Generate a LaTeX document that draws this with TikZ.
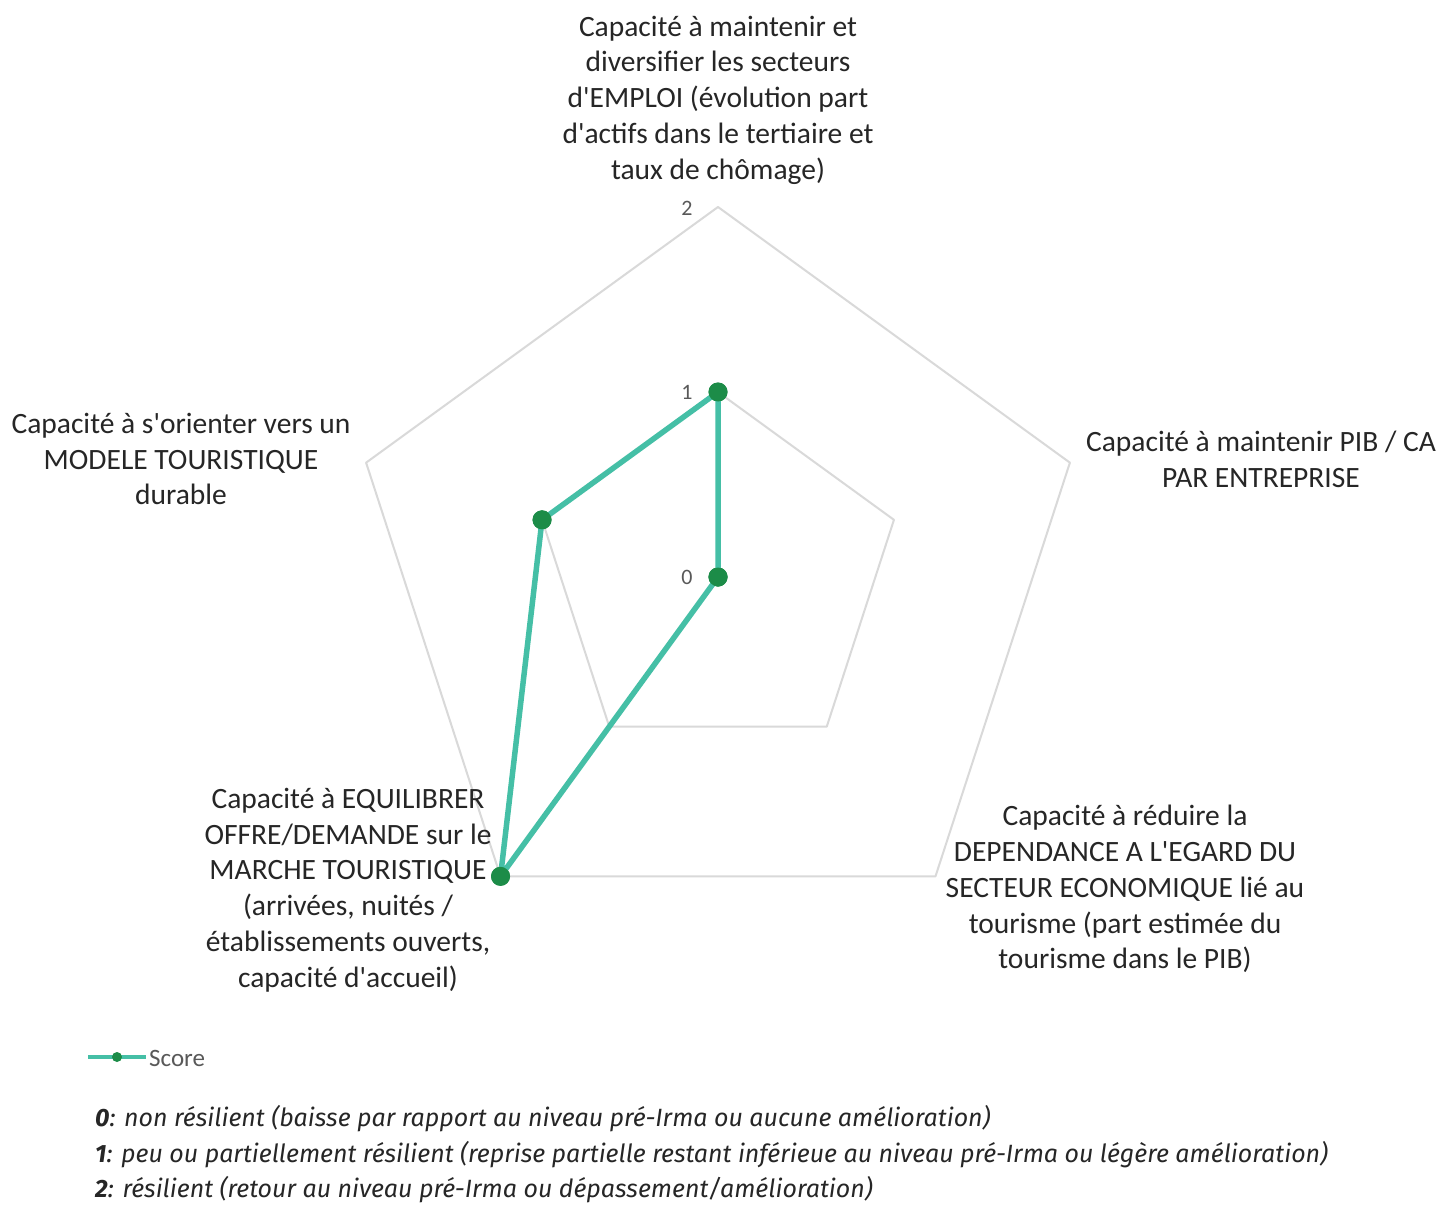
\documentclass[tikz,border=0pt]{standalone}
\usepackage{fontspec}
\setmainfont{Carlito}
\newfontfamily\notefont{Fira Sans}
\usetikzlibrary{calc}
\definecolor{gridgray}{HTML}{D9D9D9}
\definecolor{seriesteal}{HTML}{45BFA6}
\definecolor{markgreen}{HTML}{1C8C48}
\definecolor{ticktext}{HTML}{595959}
\newcommand{\ap}{\textquotesingle}
\tikzset{
  gridline/.style={draw=gridgray, line width=2pt, line join=round},
  series/.style={draw=seriesteal, line width=5.5pt, line join=round},
  dot/.style={circle, fill=markgreen, inner sep=0pt, minimum size=19pt},
  axislabel/.style={align=center, text=black!85, font=\fontsize{29.5}{35.8}\selectfont, inner sep=0pt},
  ticklabel/.style={text=ticktext, font=\fontsize{22}{24}\selectfont, inner sep=0pt},
  note/.style={anchor=west, text=black!85, font=\notefont\itshape\fontsize{25}{28}\selectfont, inner sep=0pt},
}
\begin{document}
\begin{tikzpicture}[x=1pt, y=-1pt]
\useasboundingbox[fill=white] (0,0) rectangle (1442,1206);
\coordinate (c) at (718,577);

% grid pentagons (levels 1 and 2)
\begin{scope}[shift={(c)}]
  \foreach \r in {185,370} {
    \draw[gridline] (90:\r pt) -- (18:\r pt) -- (-54:\r pt) -- (-126:\r pt) -- (162:\r pt) -- cycle;
  }
  % data points
  \node[dot] (pEmploi)   at (90:185pt) {};
  \node[dot] (pPib)      at (18:0pt) {};
  \node[dot] (pDep)      at (-54:0pt) {};
  \node[dot] (pEquil)    at (-126:370pt) {};
  \node[dot] (pModele)   at (162:185pt) {};
\end{scope}

% score series
\draw[series] (pEmploi.center) -- (pPib.center) -- (pDep.center) -- (pEquil.center) -- (pModele.center) -- cycle;
\foreach \p in {pEmploi,pPib,pEquil,pModele} { \node[dot] at (\p) {}; }

% scale labels
\node[ticklabel] (t2) at (687,208) {2};
\node[ticklabel] (t1) at (687,392) {1};
\node[ticklabel] (t0) at (687,577) {0};

% axis labels
\node[axislabel] (lEmploi) at (718,100) {Capacité à maintenir et\\diversifier les secteurs\\d\ap EMPLOI (évolution part\\d\ap actifs dans le tertiaire et\\taux de chômage)};
\node[axislabel] (lPib) at (1261,459) {Capacité à maintenir PIB / CA\\PAR ENTREPRISE};
\node[axislabel] (lDep) at (1125,889) {Capacité à réduire la\\DEPENDANCE A L\ap EGARD DU\\SECTEUR ECONOMIQUE lié au\\tourisme (part estimée du\\tourisme dans le PIB)};
\node[axislabel] (lEquil) at (348,890) {Capacité à EQUILIBRER\\OFFRE/DEMANDE sur le\\MARCHE TOURISTIQUE\\(arrivées, nuités /\\établissements ouverts,\\capacité d\ap accueil)};
\node[axislabel] (lModele) at (181,459) {Capacité à s\ap orienter vers un\\MODELE TOURISTIQUE\\durable};

% legend
\coordinate (legA) at (88,1057);
\coordinate (legB) at (146,1057);
\draw[draw=seriesteal, line width=4pt] (legA) -- (legB);
\node[circle, fill=markgreen, inner sep=0pt, minimum size=10pt] (legDot) at ($(legA)!0.5!(legB)$) {};
\node[ticklabel, anchor=west, font=\fontsize{25}{28}\selectfont] (legText) at (149,1058) {Score};

% notes
\node[note] (n0) at (95,1119) {\textbf{0}: non résilient (baisse par rapport au niveau pré-Irma ou aucune amélioration)};
\node[note] (n1) at (95,1155) {\textbf{1}: peu ou partiellement résilient (reprise partielle restant inférieue au niveau pré-Irma ou légère amélioration)};
\node[note] (n2) at (95,1190) {\textbf{2}: résilient (retour au niveau pré-Irma ou dépassement/amélioration)};
\end{tikzpicture}
\end{document}
